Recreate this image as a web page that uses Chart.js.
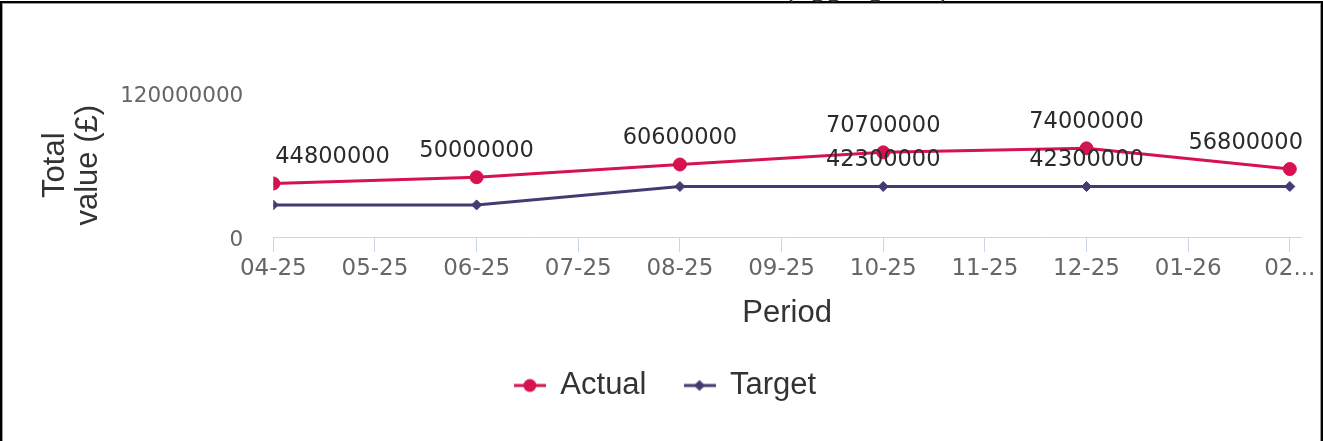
<!DOCTYPE html>
<html>
<head>
<meta charset="utf-8">
<script src="https://cdn.jsdelivr.net/npm/chart.js@4/dist/chart.umd.min.js"></script>
<style>
  body { margin: 0; background: #fff; width: 1323px; height: 441px; overflow: hidden; position: relative; }
  #c { position: absolute; left: 0; top: 0; }
  .frame { position: absolute; left: 0; top: 1px; width: 1323px; height: 445px; box-sizing: border-box;
           border: 2px solid #000; box-shadow: inset 0 0 0 1px #9a9a9a; pointer-events: none; }
  .title { position: absolute; right: 373px; top: -28px; font: 29px "Liberation Sans", Arial, sans-serif;
           line-height: 29px; color: #333; white-space: nowrap; }
</style>
</head>
<body>
<canvas id="c" width="1323" height="441"></canvas>
<div class="frame"></div>
<div class="title">Total value (aggregated)</div>
<script>
const periods = ['04-25', '05-25', '06-25', '07-25', '08-25', '09-25', '10-25', '11-25', '12-25', '01-26', '02-26'];
const tickLabels = ['04-25', '05-25', '06-25', '07-25', '08-25', '09-25', '10-25', '11-25', '12-25', '01-26', '02...'];
const actual = [44800000, null, 50000000, null, 60600000, null, 70700000, null, 74000000, null, 56800000];
const target = [27000000, null, 27000000, null, 42300000, null, 42300000, null, 42300000, null, 42300000];
const targetLabelsAt = ['10-25', '12-25'];
const yTicks = [0, 120000000];

const RED = '#d6124f';
const PURPLE = '#433b72';
const TITLE_FONT = { family: '"Liberation Sans", Arial', size: 31 };

function toPoints(values) {
    return values.map((v, i) => v == null ? null : { x: i, y: v, period: periods[i] }).filter(Boolean);
}

// little line+marker image for the legend
function legendIcon(color, style) {
    const c = document.createElement('canvas');
    c.width = 32; c.height = 16;
    const g = c.getContext('2d');
    g.strokeStyle = color; g.fillStyle = color; g.lineWidth = 3;
    g.beginPath(); g.moveTo(0, 8); g.lineTo(32, 8); g.stroke();
    g.beginPath();
    if (style === 'circle') g.arc(16, 8, 6.5, 0, Math.PI * 2);
    else { g.moveTo(16, 2.5); g.lineTo(21.5, 8); g.lineTo(16, 13.5); g.lineTo(10.5, 8); g.closePath(); }
    g.fill();
    return c;
}

const valueLabels = {
    id: 'valueLabels',
    afterDatasetsDraw(chart) {
        const { ctx, chartArea } = chart;
        ctx.save();
        ctx.font = '22.5px "DejaVu Sans"';
        ctx.fillStyle = '#2b2b2b';
        ctx.textAlign = 'center';
        ctx.textBaseline = 'middle';
        chart.data.datasets.forEach((ds, di) => {
            chart.getDatasetMeta(di).data.forEach((el, i) => {
                const p = ds.data[i];
                if (ds.labelAt && !ds.labelAt.includes(p.period)) return;
                const txt = String(p.y);
                const w = ctx.measureText(txt).width;
                let x = el.x;
                x = Math.max(x, chartArea.left + 2 + w / 2);
                x = Math.min(x, chartArea.right + 2 - w / 2);
                ctx.fillText(txt, x, el.y - 26);
            });
        });
        ctx.restore();
    }
};

new Chart(document.getElementById('c'), {
    type: 'line',
    data: {
        datasets: [{
            label: 'Actual',
            data: toPoints(actual),
            borderColor: RED,
            backgroundColor: RED,
            borderWidth: 3,
            pointStyle: 'circle',
            pointRadius: 6.5,
            pointBorderWidth: 1,
            legendIcon: legendIcon(RED, 'circle')
        }, {
            label: 'Target',
            data: toPoints(target),
            borderColor: PURPLE,
            backgroundColor: PURPLE,
            borderWidth: 3,
            pointStyle: 'rectRot',
            pointRadius: 5,
            pointBorderWidth: 1,
            labelAt: targetLabelsAt,
            legendIcon: legendIcon(PURPLE, 'diamond')
        }]
    },
    options: {
        responsive: false,
        devicePixelRatio: 1,
        animation: false,
        layout: { padding: { left: 30, right: 22, top: 93, bottom: 30 } },
        plugins: {
            tooltip: { enabled: false },
            legend: {
                position: 'bottom',
                labels: {
                    usePointStyle: true,
                    pointStyleWidth: 30,
                    padding: 38,
                    color: '#333',
                    font: TITLE_FONT,
                    generateLabels(chart) {
                        return chart.data.datasets.map((ds, i) => ({
                            text: ds.label,
                            pointStyle: ds.legendIcon,
                            fillStyle: ds.borderColor,
                            strokeStyle: ds.borderColor,
                            fontColor: '#333',
                            lineWidth: 0,
                            datasetIndex: i
                        }));
                    }
                }
            }
        },
        scales: {
            x: {
                type: 'linear',
                min: 0,
                max: 10.11,
                afterFit: axis => { axis.height = 94.6; },
                grid: { display: true, drawOnChartArea: false, drawTicks: true, tickLength: 15, color: '#ccd6eb' },
                border: { display: true, color: '#ccd6eb', width: 1 },
                ticks: {
                    stepSize: 1,
                    includeBounds: false,
                    autoSkip: false,
                    maxRotation: 0,
                    padding: 3,
                    color: '#666',
                    font: { family: '"DejaVu Sans"', size: 23 },
                    callback: v => tickLabels[v]
                },
                title: {
                    display: true,
                    text: 'Period',
                    color: '#333',
                    font: TITLE_FONT,
                    padding: { top: 10, bottom: 0 }
                }
            },
            y: {
                min: yTicks[0],
                max: yTicks[yTicks.length - 1],
                afterFit: axis => { axis.width = 243.3; },
                grid: { display: false, drawTicks: false },
                border: { display: false },
                afterBuildTicks: axis => { axis.ticks = yTicks.map(v => ({ value: v })); },
                ticks: {
                    padding: 30,
                    labelOffset: 3,
                    color: '#666',
                    font: { family: '"DejaVu Sans"', size: 21.5 },
                    callback: v => String(v)
                },
                title: {
                    display: true,
                    text: ['Total', 'value (£)'],
                    color: '#333',
                    font: { family: '"Liberation Sans", Arial', size: 31, lineHeight: 1.07 },
                    padding: { top: 8.5, bottom: 10 }
                }
            }
        }
    },
    plugins: [valueLabels]
});
</script>
</body>
</html>
